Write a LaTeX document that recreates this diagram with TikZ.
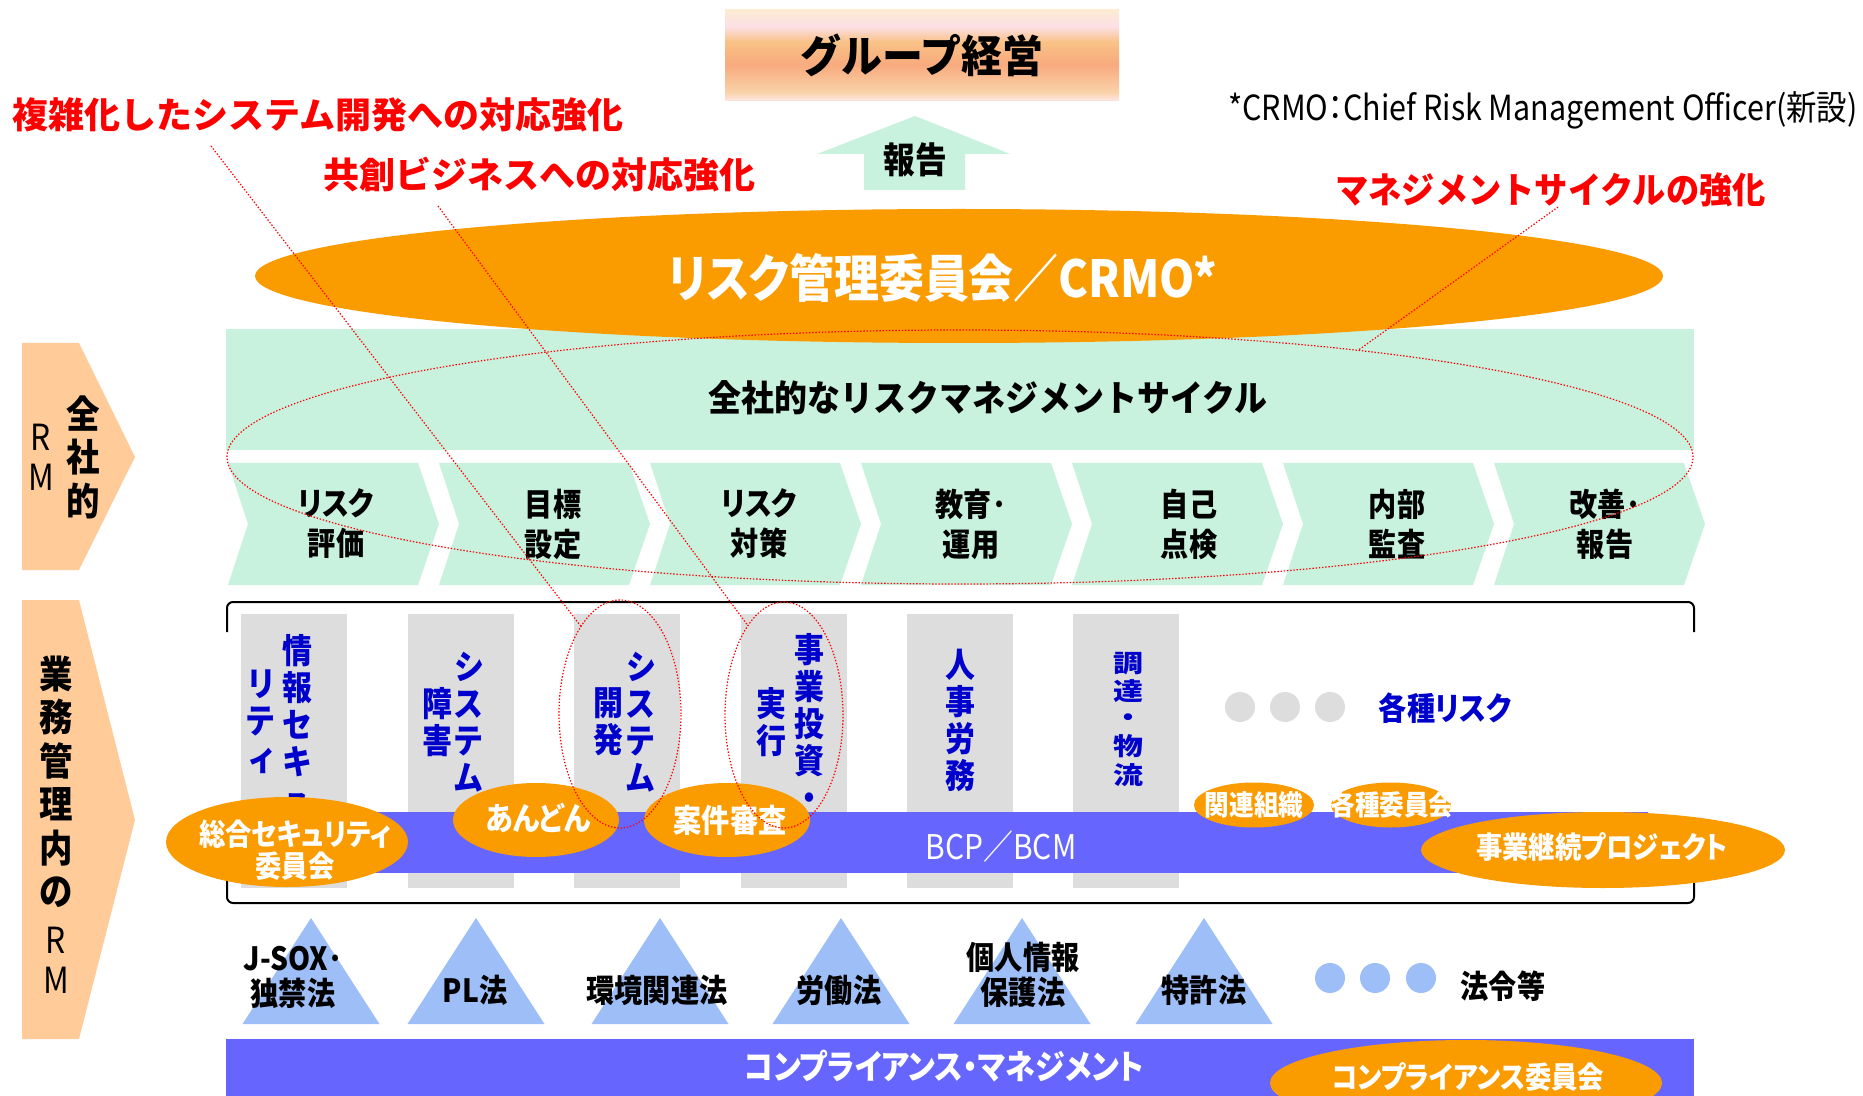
\documentclass[tikz,border=0pt]{standalone}
\usepackage{fontspec}
\newfontfamily\jp{Noto Sans CJK JP}[RawFeature=+palt,FakeStretch=0.88]
\newfontfamily\jpw{Noto Sans CJK JP}
\usetikzlibrary{shapes.geometric}
\definecolor{orng}{RGB}{250,155,0}
\definecolor{bband}{RGB}{102,102,255}
\definecolor{gcol}{RGB}{221,221,221}
\definecolor{btxt}{RGB}{0,0,204}
\definecolor{mint}{RGB}{200,242,222}
\definecolor{peach}{RGB}{255,204,153}
\definecolor{tri}{RGB}{158,190,248}
\definecolor{gza}{RGB}{252,230,228}
\definecolor{gzb}{RGB}{250,210,168}
\definecolor{gzc}{RGB}{248,170,126}
\definecolor{gzd}{RGB}{249,194,134}
\definecolor{gze}{RGB}{252,224,230}
\definecolor{gzf}{RGB}{252,235,210}
\pgfdeclareverticalshading{grp}{100bp}{color(0bp)=(gza); color(25bp)=(gza); color(30bp)=(gzb); color(45bp)=(gzc); color(57.5bp)=(gzd); color(66bp)=(gze); color(75bp)=(gzf); color(100bp)=(gzf)}
\newcommand\myfs[2]{\fontsize{#1}{#2}\selectfont}
\newcommand\hsc[2]{\scalebox{#1}[1]{#2}}
\tikzset{
  redlab/.style={anchor=west, text=red, inner sep=0, font={\jpw\bfseries\myfs{18pt}{20pt}}},
  chevtxt/.style={align=center, inner sep=0, font={\jp\bfseries\myfs{16pt}{20pt}}},
  coltxt/.style={align=center, inner sep=0, text=btxt, font={\jp\bfseries\myfs{17pt}{18.5pt}}},
  wtxt/.style={align=center, inner sep=0, text=white},
  blk/.style={align=center, inner sep=0, font={\jp\bfseries\myfs{16pt}{17.5pt}}},
  oell/.style={ellipse, fill=orng, inner sep=0, outer sep=0},
  gcolumn/.style={fill=gcol, inner sep=0, minimum width=53pt, minimum height=137pt},
  reddot/.style={draw=red, line width=0.6pt, dash pattern=on 0.7pt off 0.9pt},
  rell/.style={ellipse, reddot, inner sep=0, outer sep=0}
}
\begin{document}
\begin{tikzpicture}[x=0.5pt,y=-0.5pt]
\useasboundingbox[fill=white] (0,0) rectangle (1863,1096);

% top box
\node[shade, shading=grp, minimum width=197pt, minimum height=45.5pt, inner sep=0,
      font={\jpw\bfseries\myfs{22pt}{24pt}}] (grp) at (922,55.5) {\hsc{0.93}{グループ経営}};

% red labels and note
\node[redlab] (lab1) at (12,115) {複雑化したシステム開発への対応強化};
\node[redlab] (lab2) at (323,175) {共創ビジネスへの対応強化};
\node[redlab] (lab3) at (1335,190) {\hsc{0.923}{マネジメントサイクルの強化}};
\node[anchor=east, inner sep=0, font={\jp\myfs{17.3pt}{20pt}}] (note) at (1858,110) {*CRMO：Chief Risk Management Officer(新設)};

% report arrow
\fill[mint] (817,154) -- (915,116) -- (1010,154) -- (965,154) -- (965,190) -- (864,190) -- (864,154) -- cycle;
\node[inner sep=0, font={\jp\bfseries\myfs{18pt}{20pt}}] (rep) at (915,160) {報告};

% green band and chevrons
\fill[mint] (226,329) rectangle (1694,450);
\foreach \i in {0,...,6} {
  \pgfmathsetmacro\xa{228+211*\i}
  \fill[mint] (\xa,463) -- ++(190,0) -- ++(21,61) -- ++(-21,61) -- ++(-190,0) -- ++(20,-61) -- cycle;
}

% big orange ellipse
\node[oell, minimum width=704pt, minimum height=67pt] (rmc) at (959,276) {};
\node[wtxt, font={\jp\bfseries\myfs{25.5pt}{27pt}}] (rmct) at (943,278) {リスク管理委員会／CRMO*};

\node[inner sep=0, font={\jpw\bfseries\myfs{18pt}{20pt}}] (cyct) at (988,398) {\hsc{0.915}{全社的なリスクマネジメントサイクル}};

\node[chevtxt] (ch1) at (336,524) {リスク\\評価};
\node[chevtxt] (ch2) at (553,524) {目標\\設定};
\node[chevtxt] (ch3) at (759,524) {リスク\\対策};
\node[chevtxt] (ch4) at (971,524) {教育･\\運用};
\node[chevtxt] (ch5) at (1189,524) {自己\\点検};
\node[chevtxt] (ch6) at (1397,524) {内部\\監査};
\node[chevtxt] (ch7) at (1605,524) {改善･\\報告};

% left arrows
\fill[peach] (22,343) -- (79,343) -- (135,457) -- (79,570) -- (22,570) -- cycle;
\fill[peach] (22,600) -- (79,600) -- (135,820) -- (79,1039) -- (22,1039) -- cycle;
\node[align=center, inner sep=0, font={\jp\bfseries\myfs{19pt}{21.75pt}}] (zsh) at (83,457) {全\\社\\的};
\node[align=center, inner sep=0, font={\jp\myfs{18pt}{20pt}}] (rma) at (41,457) {R\\M};
\node[align=center, inner sep=0, font={\jp\bfseries\myfs{19pt}{21.75pt}}] (gyo) at (56,782) {業\\務\\管\\理\\内\\の};
\node[align=center, inner sep=0, font={\jp\myfs{18pt}{20pt}}] (rmb) at (56,960) {R\\M};

% bracket
\draw[line width=1pt, rounded corners=3pt] (227,632) -- (227,602) -- (1694,602) -- (1694,632);
\draw[line width=1pt, rounded corners=3pt] (227,865) -- (227,903) -- (1694,903) -- (1694,865);

% gray columns
\node[gcolumn] (c1) at (294,751) {};
\node[gcolumn] (c2) at (461,751) {};
\node[gcolumn] (c3) at (627,751) {};
\node[gcolumn] (c4) at (794,751) {};
\node[gcolumn] (c5) at (960,751) {};
\node[gcolumn] (c6) at (1126,751) {};

\node[coltxt] (c1a) at (297,723) {情\\報\\セ\\キ\\ュ};
\node[coltxt] (c1b) at (261,722) {リ\\テ\\ィ};
\node[coltxt] (c2a) at (469,722) {シ\\ス\\テ\\ム};
\node[coltxt] (c2b) at (437,722) {障\\害};
\node[coltxt] (c3a) at (641,722) {シ\\ス\\テ\\ム};
\node[coltxt] (c3b) at (608,722) {開\\発};
\node[coltxt] (c4a) at (809,722) {事\\業\\投\\資\\・};
\node[coltxt] (c4b) at (771,722) {実\\行};
\node[coltxt] (c5a) at (960,720) {人\\事\\労\\務};
\node[inner sep=0, text=btxt, font={\jp\bfseries\myfs{17pt}{18pt}}] (c6a) at (1128,722)
  {\scalebox{1}[0.72]{\begin{tabular}{@{}c@{}}調\\達\\・\\物\\流\end{tabular}}};

% gray dots and label
\fill[gcol] (1240,707) circle[radius=15];
\fill[gcol] (1285,707) circle[radius=15];
\fill[gcol] (1330,707) circle[radius=15];
\node[inner sep=0, text=btxt, font={\jp\bfseries\myfs{16pt}{19pt}}] (kakushu) at (1445,708) {各種リスク};

% BCP band
\fill[bband] (250,812) rectangle (1648,873);
\node[wtxt, font={\jp\myfs{17pt}{19pt}}] (bcpt) at (1001,847) {BCP／BCM};

% small orange ellipses
\node[oell, minimum width=121pt, minimum height=45pt] (sogo) at (287,842) {};
\node[wtxt, font={\jp\bfseries\myfs{15pt}{16pt}}] (sogot) at (295,850) {総合セキュリティ\\委員会};
\node[oell, minimum width=83pt, minimum height=37pt] (andon) at (536,820) {};
\node[wtxt, font={\jp\bfseries\myfs{16pt}{18pt}}] (andont) at (538,818) {あんどん};
\node[oell, minimum width=83pt, minimum height=37pt] (anken) at (727,820) {};
\node[wtxt, font={\jp\bfseries\myfs{16pt}{18pt}}] (ankent) at (730,820) {案件審査};
\node[oell, minimum width=60pt, minimum height=22.5pt] (kanren) at (1254,805) {};
\node[wtxt, font={\jp\bfseries\myfs{14pt}{16pt}}] (kanrent) at (1254,805) {関連組織};
\node[oell, minimum width=60pt, minimum height=22.5pt] (iinkai) at (1391,805) {};
\node[wtxt, font={\jp\bfseries\myfs{14pt}{16pt}}] (iinkait) at (1392,805) {各種委員会};
\node[oell, minimum width=182pt, minimum height=38pt] (jigyo) at (1603,850) {};
\node[wtxt, font={\jp\bfseries\myfs{15pt}{17pt}}] (jigyot) at (1602,847) {事業継続プロジェクト};

% triangles
\foreach \ax in {311,476,660,841,1022,1204} {
  \fill[tri] (\ax,918) -- (\ax+68.5,1024) -- (\ax-68.5,1024) -- cycle;
}
\node[blk] (law1) at (293,977) {J-SOX･\\独禁法};
\node[blk] (law2) at (475,990) {PL法};
\node[blk] (law3) at (657,990) {環境関連法};
\node[blk] (law4) at (839,990) {労働法};
\node[blk] (law5) at (1023,975) {個人情報\\保護法};
\node[blk] (law6) at (1204,990) {特許法};
\fill[tri] (1330,978) circle[radius=15];
\fill[tri] (1375,978) circle[radius=15];
\fill[tri] (1421,978) circle[radius=15];
\node[blk] (law7) at (1503,986) {法令等};

% compliance band
\fill[bband] (226,1039) rectangle (1694,1096);
\node[wtxt, font={\jp\bfseries\myfs{17pt}{18pt}}] (compt) at (944,1066) {コンプライアンス・マネジメント};
\node[oell, minimum width=196pt, minimum height=43pt] (compi) at (1466,1083) {};
\node[wtxt, font={\jp\bfseries\myfs{15pt}{17pt}}] (compit) at (1468,1077) {コンプライアンス委員会};

% red dotted highlights
\node[rell, minimum width=733pt, minimum height=127pt] (cyc) at (960,457) {};
\node[rell, minimum width=61pt, minimum height=114pt] (e2) at (620,714) {};
\node[rell, minimum width=59pt, minimum height=113pt] (e3) at (784,715) {};
\coordinate (s1) at (211,146);
\coordinate (s2) at (438,206);
\coordinate (s3) at (1558,207);
\draw[reddot] (s1) -- (e2.114);
\draw[reddot] (s2) -- (e3.112);
\draw[reddot] (s3) -- (cyc.15);
\end{tikzpicture}
\end{document}
